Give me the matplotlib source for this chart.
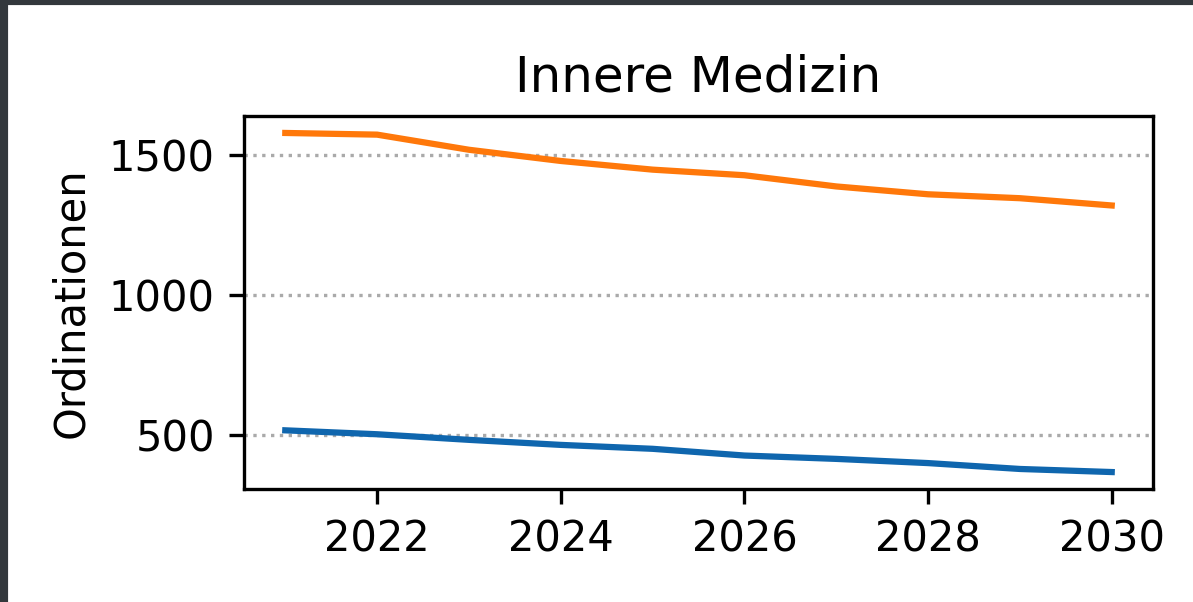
import matplotlib
matplotlib.use("Agg")
import matplotlib.pyplot as plt
from matplotlib.patches import Rectangle

# Data
years = [2021, 2022, 2023, 2024, 2025, 2026, 2027, 2028, 2029, 2030]
series_blue = [518, 504, 484, 466, 452, 428, 416, 401, 380, 369]
series_orange = [1580, 1574, 1520, 1480, 1449, 1429, 1389, 1361, 1347, 1321]
xticks = [2022, 2024, 2026, 2028, 2030]
yticks = [500, 1000, 1500]

fig = plt.figure(figsize=(1193 / 300, 602 / 300), dpi=300)
ax = fig.add_axes([0.2045, 0.1877, 0.9665 - 0.2045, 0.8073 - 0.1877])

ax.plot(years, series_blue, color="#0f66ae", lw=1.5)
ax.plot(years, series_orange, color="#ff780a", lw=1.5)

ax.set_title("Innere Medizin", fontsize=12)
ax.set_ylabel("Ordinationen", fontsize=10)
ax.set_xticks(xticks)
ax.set_yticks(yticks)
ax.grid(axis="y", linestyle=":", color="#aaaaaa", lw=0.8)
ax.set_axisbelow(True)

# dark screenshot frame on top and left edges
fig.patches.append(Rectangle((0, 1 - 3 / 602), 1, 3 / 602, transform=fig.transFigure,
                             color="#33383c", zorder=10))
fig.patches.append(Rectangle((0, 0), 6 / 1193, 1, transform=fig.transFigure,
                             color="#33383c", zorder=10))

fig.savefig("out.png", dpi=300)
